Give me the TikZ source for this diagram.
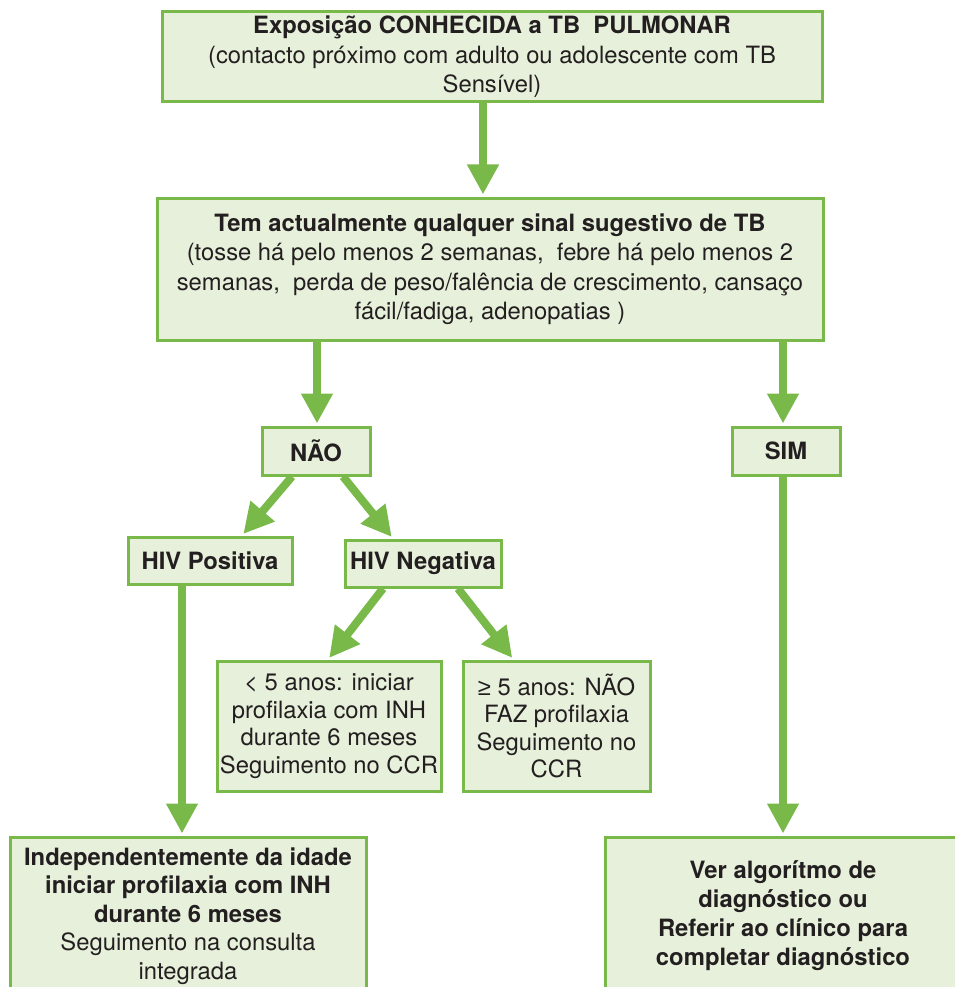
\documentclass[tikz,border=0pt]{standalone}
\usepackage{fontspec}
\setmainfont{TeX Gyre Heros}
\newfontfamily\symb{Liberation Sans}
\usetikzlibrary{arrows.meta}
\definecolor{flgreen}{RGB}{120,185,74}
\definecolor{flfill}{RGB}{231,240,218}
\definecolor{fltext}{RGB}{35,31,32}
\tikzset{
  box/.style={draw=flgreen, fill=flfill, line width=3pt, inner sep=0pt,
    align=center, text=fltext, font=\fontsize{23.8}{29.5}\selectfont},
  smallbox/.style={box, font=\fontsize{23.8}{27.5}\selectfont},
  arr/.style={draw=flgreen, line width=8pt, shorten >=2pt,
    -{Triangle[width=30pt,length=30pt]}}
}
\begin{document}
\begin{tikzpicture}[x=1pt,y=-1pt]
\useasboundingbox (0,0) rectangle (954,987);

% boxes
\node[box, minimum width=660pt, minimum height=90pt] (top) at (492,57)
  {\textbf{Exposição CONHECIDA a TB~ PULMONAR}\\(contacto próximo com adulto ou adolescente com TB\\Sensível)};
\node[box, minimum width=666pt, minimum height=142pt] (q) at (490,269)
  {\textbf{Tem actualmente qualquer sinal sugestivo de TB}\\(tosse há pelo menos 2 semanas,~ febre há pelo menos 2\\semanas,~ perda de peso/falência de crescimento, cansaço\\fácil/fadiga, adenopatias )};
\node[box, minimum width=108pt, minimum height=48pt] (nao) at (316,451) {\textbf{NÃO}};
\node[box, minimum width=108pt, minimum height=48pt] (sim) at (786,451) {\textbf{SIM}};
\node[box, minimum width=164pt, minimum height=47pt] (hivpos) at (210,560.5) {\textbf{HIV Positiva}};
\node[box, minimum width=156pt, minimum height=47pt] (hivneg) at (423,563.5) {\textbf{HIV Negativa}};
\node[smallbox, minimum width=224pt, minimum height=130pt] (lt5) at (329,726)
  {< 5 anos: iniciar\\profilaxia com INH\\durante 6 meses\\Seguimento no CCR};
\node[smallbox, minimum width=187pt, minimum height=130pt] (ge5) at (556.5,726)
  {{\symb ≥} 5 anos: NÃO\\FAZ profilaxia\\Seguimento no\\CCR};
\node[box, font=\fontsize{23.8}{28.5}\selectfont, minimum width=356pt, minimum height=158pt] (indep) at (188,916)
  {\textbf{Independentemente da idade}\\\textbf{iniciar profilaxia com INH}\\\textbf{durante 6 meses}\\Seguimento na consulta\\integrada};
\node[box, font=\fontsize{23.8}{29}\selectfont, minimum width=356pt, minimum height=158pt] (ver) at (783,916)
  {\textbf{Ver algorítmo de}\\\textbf{diagnóstico ou}\\\textbf{Referir ao clínico para}\\\textbf{completar diagnóstico}};

% connectors
\draw[arr] ([xshift=-9pt]top.south) -- ([xshift=-7pt]q.north);
\draw[arr] ([xshift=-173pt]q.south) -- ([xshift=1pt]nao.north);
\draw[arr] ([xshift=293pt]q.south) -- ([xshift=-3pt]sim.north);
\draw[arr] ([xshift=-24pt]nao.south) -- ([xshift=32pt]hivpos.north);
\draw[arr] ([xshift=27pt]nao.south) -- ([xshift=-30pt]hivneg.north);
\draw[arr] ([xshift=-40pt]hivneg.south) -- ([xshift=-1pt]lt5.north);
\draw[arr] ([xshift=35pt]hivneg.south) -- ([xshift=-43pt]ge5.north);
\draw[arr] ([xshift=-28pt]hivpos.south) -- ([xshift=-6pt]indep.north);
\draw[arr] ([xshift=-3pt]sim.south) -- (ver.north);
\end{tikzpicture}
\end{document}
